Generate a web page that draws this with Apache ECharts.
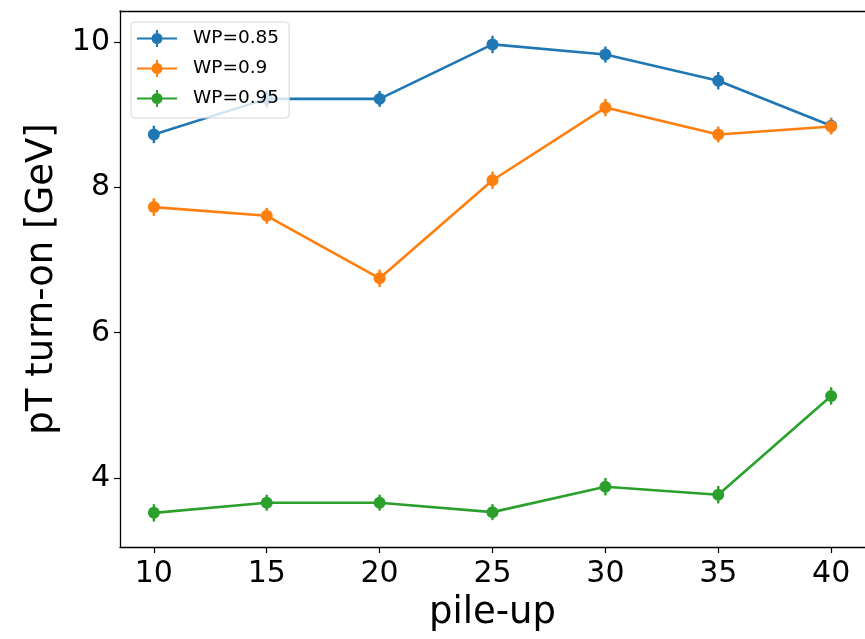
<!DOCTYPE html>
<html>
<head>
<meta charset="utf-8">
<script src="https://cdn.jsdelivr.net/npm/echarts@6/dist/echarts.min.js"></script>
<style>
  html, body { margin: 0; padding: 0; background: #fff; }
  #main { width: 865px; height: 639px; }
</style>
</head>
<body>
<div id="main"></div>
<script>
// pile-up values (x)
const pileUp = [10, 15, 20, 25, 30, 35, 40]
const xTicks = [10, 15, 20, 25, 30, 35, 40]
const yTicks = [4, 6, 8, 10]

// pT turn-on [GeV] per working point
const wp085 = [8.73, 9.22, 9.22, 9.97, 9.83, 9.47, 8.85]
const wp090 = [7.73, 7.61, 6.75, 8.10, 9.10, 8.73, 8.84]
const wp095 = [3.52, 3.66, 3.66, 3.53, 3.88, 3.77, 5.13]

// error bars (half-height)
const err085 = [0.12, 0.12, 0.11, 0.12, 0.11, 0.12, 0.11]
const err090 = [0.12, 0.11, 0.12, 0.12, 0.12, 0.11, 0.11]
const err095 = [0.12, 0.11, 0.11, 0.11, 0.12, 0.12, 0.12]

const names = ['WP=0.85', 'WP=0.9', 'WP=0.95']
const colors = ['#1f77b4', '#ff7f0e', '#2ca02c']

const chart = echarts.init(document.getElementById('main'))

// 图例图标: 横线 + 圆点 + 误差竖线
const legendIcon = 'path://M0 7.5L40 7.5L40 9.5L0 9.5Z M19 0L21 0L21 17L19 17Z M14.5 8.5A5.5 5.5 0 1 1 25.5 8.5A5.5 5.5 0 1 1 14.5 8.5Z'

function lineSeries(name, ys, color) {
  return {
    name: name,
    type: 'line',
    data: pileUp.map((x, i) => [x, ys[i]]),
    symbol: 'circle',
    symbolSize: 12,
    z: 3,
    lineStyle: { color: color, width: 2.6 },
    itemStyle: { color: color },
    emphasis: { disabled: true }
  }
}

function errSeries(name, ys, errs, color) {
  return {
    name: name,
    type: 'custom',
    z: 2,
    data: pileUp.map((x, i) => [x, ys[i] - errs[i], ys[i] + errs[i]]),
    renderItem: function(params, api) {
      const lo = api.coord([api.value(0), api.value(1)])
      const hi = api.coord([api.value(0), api.value(2)])
      return {
        type: 'line',
        shape: { x1: lo[0], y1: lo[1], x2: hi[0], y2: hi[1] },
        style: { stroke: color, lineWidth: 2.4 }
      }
    },
    silent: true
  }
}

const option = {
  animation: false,
  textStyle: { fontFamily: 'DejaVu Sans' },
  grid: { left: 120, right: -5, top: 11, bottom: 92 },
  legend: {
    data: names.map(n => ({ name: n, icon: legendIcon })),
    orient: 'vertical',
    left: 131,
    top: 22,
    itemWidth: 40,
    itemHeight: 17,
    itemGap: 11,
    padding: [7, 10, 10, 6],
    backgroundColor: 'rgba(255,255,255,0.8)',
    borderColor: '#d6d6d6',
    borderWidth: 1,
    borderRadius: 4,
    textStyle: { fontSize: 18.5, color: '#000', fontFamily: 'DejaVu Sans', padding: [0, 0, 0, 11] }
  },
  xAxis: [
    {
      type: 'value',
      min: 8.5,
      max: 41.5,
      name: 'pile-up',
      nameLocation: 'middle',
      nameGap: 48,
      nameTextStyle: { fontSize: 37, color: '#000' },
      axisLine: { show: true, lineStyle: { color: '#000', width: 1.3 } },
      axisTick: { show: true, length: 6, customValues: xTicks, lineStyle: { color: '#000', width: 1.2 } },
      axisLabel: { customValues: xTicks, fontSize: 30, color: '#000', margin: 12 },
      splitLine: { show: false }
    },
    {
      // 顶部边框
      type: 'value',
      position: 'top',
      min: 8.5,
      max: 41.5,
      axisLine: { show: true, lineStyle: { color: '#000', width: 1.3 } },
      axisTick: { show: false },
      axisLabel: { show: false },
      splitLine: { show: false }
    }
  ],
  yAxis: {
    type: 'value',
    min: 3.05,
    max: 10.43,
    name: 'pT turn-on [GeV]',
    nameLocation: 'middle',
    nameGap: 56,
    nameTextStyle: { fontSize: 37, color: '#000' },
    axisLine: { show: true, lineStyle: { color: '#000', width: 1.3 } },
    axisTick: { show: true, length: 6, customValues: yTicks, lineStyle: { color: '#000', width: 1.2 } },
    axisLabel: { customValues: yTicks, fontSize: 30, color: '#000', margin: 10 },
    splitLine: { show: false }
  },
  series: [
    lineSeries(names[0], wp085, colors[0]),
    lineSeries(names[1], wp090, colors[1]),
    lineSeries(names[2], wp095, colors[2]),
    errSeries(names[0], wp085, err085, colors[0]),
    errSeries(names[1], wp090, err090, colors[1]),
    errSeries(names[2], wp095, err095, colors[2])
  ]
}

chart.setOption(option)
</script>
</body>
</html>
